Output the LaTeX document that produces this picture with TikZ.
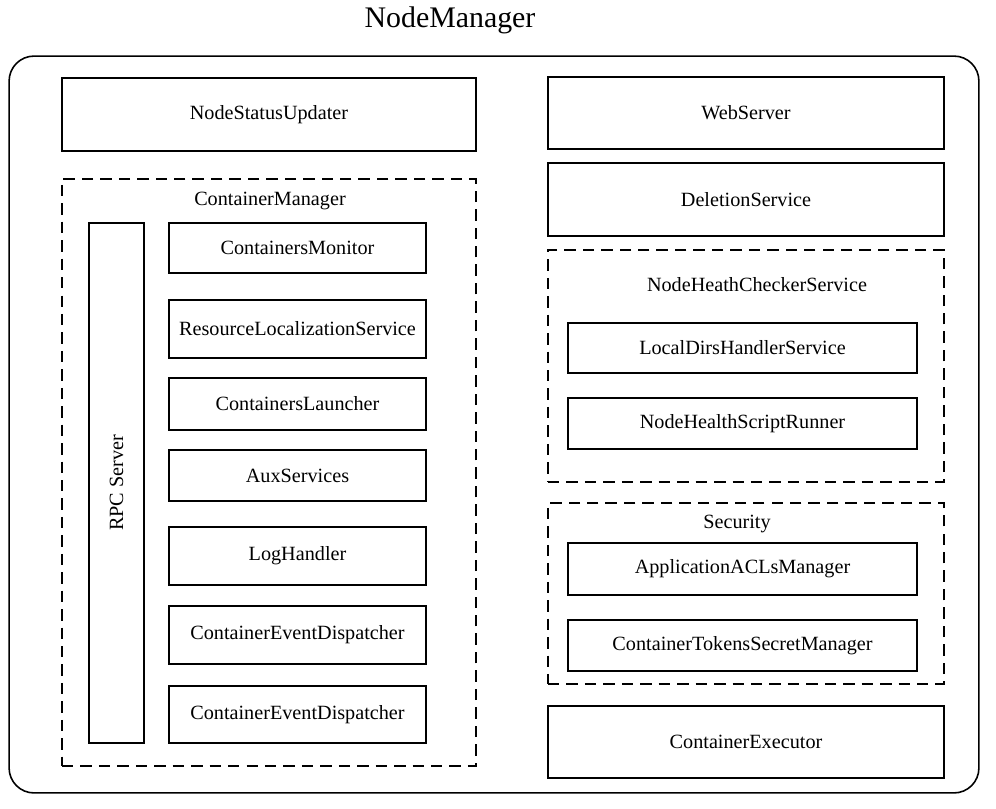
\documentclass[tikz,border=0pt]{standalone}
\usepackage{fontspec}
\setmainfont{Liberation Serif}

\begin{document}
\begin{tikzpicture}[x=0.02cm, y=-0.02cm,
    component/.style ={draw, line width=0.9pt, inner sep=0pt,
                       font=\fontsize{11.5}{13}\selectfont},
    group/.style ={draw, line width=1pt, dash pattern=on 6.5pt off 4pt, inner sep=0pt},
    grouplabel/.style ={font=\fontsize{11.5}{13}\selectfont}]
   \useasboundingbox (0,0) rectangle (996,808);

   \node[font=\fontsize{17}{20}\selectfont] (title) at (450,20) {NodeManager};
   \node[draw, line width=0.9pt, rounded corners=0.5cm, minimum width=19.4cm,
         minimum height=14.74cm] (nodemanager) at (494,424.5) {};

   % left column
   \node[component, minimum width=8.28cm, minimum height=1.46cm] (statusupdater) at (269,114.5) {NodeStatusUpdater};
   \node[group, minimum width=8.28cm, minimum height=11.74cm] (containermanager) at (269,472.5) {};
   \node[grouplabel] (containermanagerlabel) at (270,201) {ContainerManager};
   \node[component, rotate=90, minimum width=10.4cm, minimum height=1.1cm] (rpc) at (116.5,483) {RPC Server};
   \node[component, minimum width=5.14cm, minimum height=1.0cm] (monitor) at (297.5,248) {ContainersMonitor};
   \node[component, minimum width=5.14cm, minimum height=1.16cm] (localization) at (297.5,329) {ResourceLocalizationService};
   \node[component, minimum width=5.14cm, minimum height=1.04cm] (launcher) at (297.5,404) {ContainersLauncher};
   \node[component, minimum width=5.14cm, minimum height=1.02cm] (aux) at (297.5,475.5) {AuxServices};
   \node[component, minimum width=5.14cm, minimum height=1.16cm] (loghandler) at (297.5,556) {LogHandler};
   \node[component, minimum width=5.14cm, minimum height=1.16cm] (dispatcherA) at (297.5,635) {ContainerEventDispatcher};
   \node[component, minimum width=5.14cm, minimum height=1.14cm] (dispatcherB) at (297.5,714.5) {ContainerEventDispatcher};

   % right column
   \node[component, minimum width=7.92cm, minimum height=1.44cm] (webserver) at (746,113) {WebServer};
   \node[component, minimum width=7.92cm, minimum height=1.46cm] (deletion) at (746,199.5) {DeletionService};
   \node[group, minimum width=7.92cm, minimum height=4.64cm] (healthchecker) at (746,366) {};
   \node[grouplabel] (healthcheckerlabel) at (757,285) {NodeHeathCheckerService};
   \node[component, minimum width=6.98cm, minimum height=1.0cm] (localdirs) at (742.5,348) {LocalDirsHandlerService};
   \node[component, minimum width=6.98cm, minimum height=1.02cm] (scriptrunner) at (742.5,423.5) {NodeHealthScriptRunner};
   \node[group, minimum width=7.92cm, minimum height=3.62cm] (security) at (746,593.5) {};
   \node[grouplabel] (securitylabel) at (737,524) {Security};
   \node[component, minimum width=6.98cm, minimum height=1.04cm] (acls) at (742.5,569) {ApplicationACLsManager};
   \node[component, minimum width=6.98cm, minimum height=1.02cm] (tokens) at (742.5,645.5) {ContainerTokensSecretManager};
   \node[component, minimum width=7.92cm, minimum height=1.44cm] (executor) at (746,742) {ContainerExecutor};
\end{tikzpicture}
\end{document}
